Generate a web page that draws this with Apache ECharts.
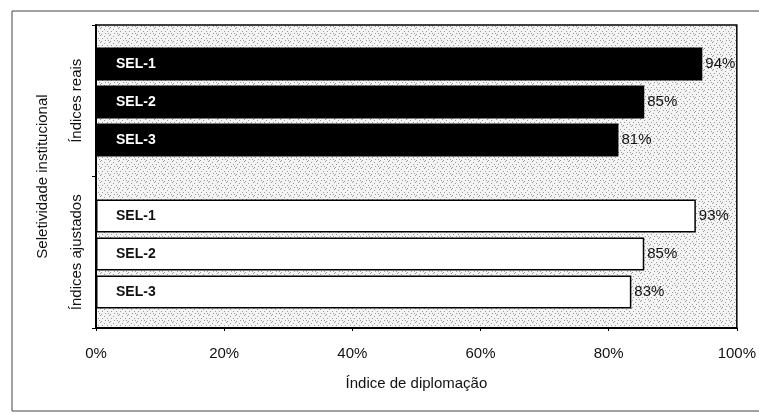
<!DOCTYPE html>
<html>
<head>
<meta charset="utf-8">
<title>Índice de diplomação</title>
<script src="https://cdn.jsdelivr.net/npm/echarts@6/dist/echarts.min.js"></script>
<style>
  html, body { margin: 0; padding: 0; background: #fff; }
  #chart { width: 759px; height: 415px; }
</style>
</head>
<body>
<div id="chart"></div>
<script>
  // dados
  var groups = ['Índices reais', 'Índices ajustados']
  var selLabels = ['SEL-1', 'SEL-2', 'SEL-3']
  var realValues = [94, 85, 81]
  var adjustedValues = [93, 85, 83]
  var xTicks = [0, 20, 40, 60, 80, 100]

  // 7 linhas: 3 reais, uma vazia, 3 ajustadas
  var rows = ['r1', 'r2', 'r3', 'gap', 'a1', 'a2', 'a3']
  var rowLabel = selLabels.concat([''], selLabels)
  var realData = realValues.concat(['-', '-', '-', '-'])
  var adjustedData = ['-', '-', '-', '-'].concat(adjustedValues)

  var font = 'Liberation Sans, Arial, sans-serif'

  // fundo pontilhado (textura fixa)
  function stipple () {
    var c = document.createElement('canvas')
    c.width = 9
    c.height = 7
    var ctx = c.getContext('2d')
    ctx.fillStyle = '#f4f4f4'
    ctx.fillRect(0, 0, 9, 7)
    ctx.fillStyle = '#9a9a9a'
    var dots = [[1, 0], [5, 1], [3, 3], [8, 3], [0, 5], [6, 5], [2, 6]]
    dots.forEach(function (d) { ctx.fillRect(d[0], d[1], 1, 1) })
    return c
  }

  var chart = echarts.init(document.getElementById('chart'))

  var option = {
    animation: false,
    backgroundColor: '#fff',
    textStyle: { fontFamily: font },
    graphic: [{
      type: 'rect',
      shape: { x: 12, y: 11, width: 760, height: 400 },
      style: { fill: 'none', stroke: '#444', lineWidth: 1 },
      z: -1
    }],
    grid: [
      // moldura com fundo cinza
      { left: 96, right: 18, top: 25, height: 303, show: true,
        backgroundColor: { image: stipple(), repeat: 'repeat' },
        borderColor: '#000', borderWidth: 1.5 },
      // barras
      { left: 96, right: 18, top: 45, height: 266 }
    ],
    xAxis: [
      { gridIndex: 0, type: 'value', min: 0, max: 100, interval: 20,
        name: 'Índice de diplomação', nameLocation: 'middle', nameGap: 48,
        nameTextStyle: { fontSize: 15, color: '#111', fontFamily: font },
        axisLine: { show: true, lineStyle: { color: '#000', width: 2 } },
        axisTick: { show: true, length: 3, lineStyle: { color: '#000' } },
        splitLine: { show: false },
        axisLabel: { margin: 18, fontSize: 15, color: '#111', fontFamily: font,
          formatter: function (v) { return xTicks.indexOf(v) >= 0 ? v + '%' : '' } } },
      { gridIndex: 1, type: 'value', min: 0, max: 100, show: false }
    ],
    yAxis: [
      { gridIndex: 0, type: 'category', data: groups, inverse: true,
        name: 'Seletividade institucional', nameLocation: 'middle', nameGap: 46,
        nameRotate: 90,
        nameTextStyle: { fontSize: 15, color: '#111', fontFamily: font },
        axisLine: { show: true, lineStyle: { color: '#000', width: 2 } },
        axisTick: { show: true, length: 4, lineStyle: { color: '#000' } },
        axisLabel: { rotate: 90, margin: 12, fontSize: 15, color: '#111', fontFamily: font } },
      { gridIndex: 1, type: 'category', data: rows, inverse: true, show: false }
    ],
    series: [
      {
        name: 'reais', type: 'bar', xAxisIndex: 1, yAxisIndex: 1,
        data: realData, barCategoryGap: '13%', barGap: '-100%',
        itemStyle: { color: '#000' },
        label: {
          show: true, position: 'insideLeft', distance: 20,
          fontSize: 14, fontWeight: 'bold', color: '#fff', fontFamily: font,
          formatter: function (p) { return rowLabel[p.dataIndex] }
        }
      },
      {
        name: 'reais_valor', type: 'bar', xAxisIndex: 1, yAxisIndex: 1,
        data: realData, barCategoryGap: '13%', barGap: '-100%',
        itemStyle: { color: 'transparent' },
        label: { show: true, position: 'right', distance: 3, fontSize: 15,
          color: '#111', fontFamily: font, formatter: '{c}%' }
      },
      {
        name: 'ajustados', type: 'bar', xAxisIndex: 1, yAxisIndex: 1,
        data: adjustedData, barCategoryGap: '13%', barGap: '-100%',
        itemStyle: { color: '#fff', borderColor: '#000', borderWidth: 1.5 },
        label: {
          show: true, position: 'insideLeft', distance: 20,
          fontSize: 14, fontWeight: 'bold', color: '#111', fontFamily: font,
          formatter: function (p) { return rowLabel[p.dataIndex] }
        }
      },
      {
        name: 'ajustados_valor', type: 'bar', xAxisIndex: 1, yAxisIndex: 1,
        data: adjustedData, barCategoryGap: '13%', barGap: '-100%',
        itemStyle: { color: 'transparent' },
        label: { show: true, position: 'right', distance: 3, fontSize: 15,
          color: '#111', fontFamily: font, formatter: '{c}%' }
      }
    ]
  }

  chart.setOption(option)
</script>
</body>
</html>
